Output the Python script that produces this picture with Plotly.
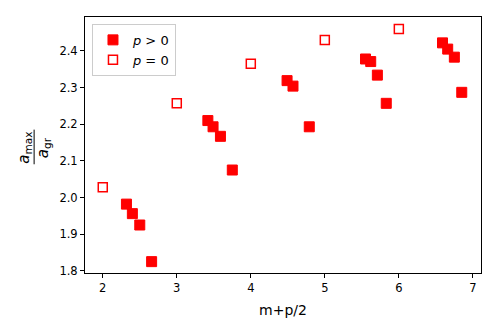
import plotly.graph_objects as go

# p > 0 points
x_pos = [2.32, 2.40, 2.50, 2.66, 3.42, 3.49, 3.59, 3.75, 4.49, 4.57, 4.79,
         5.55, 5.62, 5.71, 5.83, 6.59, 6.66, 6.75, 6.85]
y_pos = [1.982, 1.956, 1.925, 1.825, 2.210, 2.193, 2.167, 2.075, 2.319, 2.304, 2.193,
         2.378, 2.371, 2.334, 2.257, 2.422, 2.405, 2.383, 2.287]

# p = 0 points
x_zero = [2, 3, 4, 5, 6]
y_zero = [2.028, 2.257, 2.365, 2.430, 2.460]

x_ticks = [2, 3, 4, 5, 6, 7]
y_ticks = [1.8, 1.9, 2.0, 2.1, 2.2, 2.3, 2.4]

font = "DejaVu Sans"

fig = go.Figure()
fig.add_trace(go.Scatter(
    x=x_pos, y=y_pos, mode="markers", name="<i>p</i> > 0",
    marker=dict(symbol="square", size=10, color="red", line=dict(color="red", width=1))
))
fig.add_trace(go.Scatter(
    x=x_zero, y=y_zero, mode="markers", name="<i>p</i> = 0",
    marker=dict(symbol="square-open", size=9, color="red", line=dict(color="red", width=1.5))
))

axis_common = dict(
    showline=True, linecolor="black", linewidth=1, mirror=True,
    ticks="outside", ticklen=4, tickwidth=1, tickcolor="black",
    showgrid=False, zeroline=False,
    tickfont=dict(family=font, size=11.5, color="black"),
)

# the page body has an 8px margin, so the figure is a bit smaller than the window
fig.update_layout(
    width=482, height=316,
    margin=dict(l=77, r=8, t=8, b=49),
    paper_bgcolor="white", plot_bgcolor="white",
    font=dict(family=font, color="black"),
    xaxis=dict(
        range=[1.76, 7.11], tickvals=x_ticks,
        title=dict(text="m+p/2", font=dict(family=font, size=14), standoff=11),
        **axis_common
    ),
    yaxis=dict(
        range=[1.794, 2.4926], tickvals=y_ticks, tickformat=".1f",
        **axis_common
    ),
    legend=dict(
        x=0.0176, y=0.973, xanchor="left", yanchor="top",
        bordercolor="#cccccc", borderwidth=1, bgcolor="rgba(255,255,255,0.8)",
        font=dict(family=font, size=13), tracegroupgap=0,
    ),
    showlegend=True,
)

# y label as a stacked fraction a_max / a_gr
fig.add_annotation(text="<i>a</i><sub>max</sub>", xref="paper", yref="paper",
                   x=-0.1537, y=0.49, xanchor="center", yanchor="middle",
                   textangle=-90, showarrow=False, font=dict(family=font, size=15))
fig.add_annotation(text="<i>a</i><sub>gr</sub>", xref="paper", yref="paper",
                   x=-0.1045, y=0.49, xanchor="center", yanchor="middle",
                   textangle=-90, showarrow=False, font=dict(family=font, size=15))
fig.add_shape(type="line", xref="paper", yref="paper",
              x0=-0.1285, x1=-0.1285, y0=0.4247, y1=0.560,
              line=dict(color="black", width=1))

fig.write_html("out.html")
